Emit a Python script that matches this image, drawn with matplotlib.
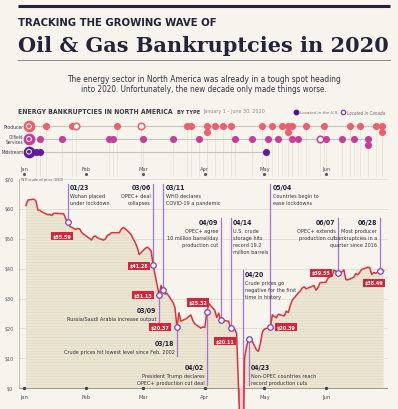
import numpy as np
import pandas as pd
import matplotlib
matplotlib.use("Agg")
import matplotlib.pyplot as plt
from matplotlib import font_manager as fm
from matplotlib.transforms import blended_transform_factory

BG = "#f6f4ec"
INK = "#23233a"
RED = "#e0323c"
TAG = "#d3263a"
VIOLET = "#a276d9"
MARK = "#7a42c8"
GRID = "#dcd7c7"
SERIF = ["DejaVu Serif"]

# WTI crude, daily close (USD), 2020
wti_days = [
    "01-02", "01-03", "01-06", "01-07", "01-08", "01-09", "01-10", "01-13", "01-14", "01-15",
    "01-16", "01-17", "01-21", "01-22", "01-23", "01-24", "01-27", "01-28", "01-29", "01-30", "01-31",
    "02-03", "02-04", "02-05", "02-06", "02-07", "02-10", "02-11", "02-12", "02-13", "02-14",
    "02-18", "02-19", "02-20", "02-21", "02-24", "02-25", "02-26", "02-27", "02-28",
    "03-02", "03-03", "03-04", "03-05", "03-06", "03-09", "03-10", "03-11", "03-12", "03-13",
    "03-16", "03-17", "03-18", "03-19", "03-20", "03-23", "03-24", "03-25", "03-26", "03-27", "03-30", "03-31",
    "04-01", "04-02", "04-03", "04-06", "04-07", "04-08", "04-09", "04-13", "04-14", "04-15",
    "04-16", "04-17", "04-20", "04-21", "04-22", "04-23", "04-24", "04-27", "04-28", "04-29", "04-30",
    "05-01", "05-04", "05-05", "05-06", "05-07", "05-08", "05-11", "05-12", "05-13", "05-14",
    "05-15", "05-18", "05-19", "05-20", "05-21", "05-22", "05-26", "05-27", "05-28", "05-29",
    "06-01", "06-02", "06-03", "06-04", "06-05", "06-08", "06-09", "06-10", "06-11", "06-12",
    "06-15", "06-16", "06-17", "06-18", "06-19", "06-22", "06-23", "06-24", "06-25", "06-26", "06-29", "06-30",
]
wti_prices = [
    61.17, 63.00, 63.27, 62.70, 59.65, 59.56, 59.02, 58.08, 58.23, 57.79,
    58.52, 58.54, 58.38, 56.74, 55.59, 54.19, 53.14, 53.48, 53.33, 52.14, 51.56,
    50.11, 49.61, 50.75, 50.95, 50.32, 49.57, 49.94, 51.17, 51.42, 52.05,
    52.05, 53.29, 53.78, 53.38, 51.43, 49.90, 48.73, 47.09, 44.76,
    46.75, 47.18, 46.78, 45.90, 41.28, 31.13, 34.36, 32.98, 31.50, 31.73,
    28.70, 26.95, 20.37, 25.22, 22.43, 23.36, 24.01, 24.49, 22.60, 21.51, 20.09, 20.48,
    20.31, 25.32, 28.34, 26.08, 23.63, 25.09, 22.76, 22.41, 20.11, 19.87,
    19.87, 18.27, -37.63, 10.01, 13.78, 16.50, 16.94, 12.78, 12.34, 15.06, 18.84,
    19.78, 20.39, 24.56, 23.99, 23.55, 24.74, 24.14, 25.78, 25.29, 27.56,
    29.43, 31.82, 32.50, 33.49, 33.92, 33.25, 34.35, 32.81, 33.71, 35.32,
    35.44, 36.81, 37.29, 37.41, 39.55, 38.19, 38.94, 39.60, 36.34, 36.26,
    37.12, 38.38, 37.96, 38.84, 39.75, 40.46, 40.37, 38.01, 38.72, 38.49, 39.70, 39.27,
]

# bankruptcy filings by type
producer_days = ["01-12", "01-25", "01-27", "02-17", "02-29", "03-23", "03-25", "04-02", "04-02",
                 "04-06", "04-10", "04-14", "04-30", "05-05", "05-10", "05-13", "05-13", "05-15",
                 "05-22", "05-31", "06-13", "06-18", "06-26", "06-29", "06-29"]
producer_canada = ["01-27", "02-29"]
services_days = ["01-09", "01-20", "02-13", "02-15", "03-01", "03-16", "03-29", "04-16", "04-25",
                 "05-03", "05-08", "05-15", "05-18", "05-29", "06-01", "06-09", "06-15", "06-22", "06-22"]
services_canada = ["05-29"]
midstream_days = ["01-07", "01-09", "05-02"]

event_days = ["01-23", "03-06", "03-09", "03-11", "03-18", "04-02", "04-09",
              "04-14", "04-20", "04-23", "05-04", "06-07", "06-28"]
event_notes = {
    "01/23": ["Wuhan placed", "under lockdown"],
    "03/06": ["OPEC+ deal", "collapses"],
    "03/09": ["Russia/Saudi Arabia increase output"],
    "03/11": ["WHO declares", "COVID-19 a pandemic"],
    "03/18": ["Crude prices hit lowest level since Feb. 2002"],
    "04/02": ["President Trump declares", "OPEC+ production cut deal"],
    "04/09": ["OPEC+ agree", "10 million barrel/day", "production cut"],
    "04/14": ["U.S. crude", "storage hits", "record 19.2", "million barrels"],
    "04/20": ["Crude prices go", "negative for the first", "time in history"],
    "04/23": ["Non-OPEC countries reach", "record production cuts"],
    "05/04": ["Countries begin to", "ease lockdowns"],
    "06/07": ["OPEC+ extends", "production cut"],
    "06/28": ["Most producer", "bankruptcies in a", "quarter since 2016"],
}
event_tags = {"01/23": "$55.59", "03/06": "$41.28", "03/09": "$31.13", "03/18": "$20.37",
              "04/02": "$25.32", "04/14": "$20.11", "05/04": "$20.39", "06/07": "$39.55",
              "06/28": "$38.49"}

months = ["Jan", "Feb", "Mar", "Apr", "May", "Jun"]
price_ticks = [0, 10, 20, 30, 40, 50, 60, 70]

# ---- layout (pixels of the 398x410 picture) ----
# side of text, title y, line top, line bottom ("m" = marker)
layout = {
    "01/23": ("r", 188, 185, "m"), "03/06": ("l", 188, 185, "m"),
    "03/09": ("l", 311, "m", 323), "03/11": ("r", 188, 185, "m"),
    "03/18": ("l", 344, "m", 357), "04/02": ("l", 368, "m", 386),
    "04/09": ("l", 223, 219, "m"), "04/14": ("r", 223, 219, "m"),
    "04/20": ("r", 275, 271, 430), "04/23": ("r", 368, "m", 386),
    "05/04": ("r", 188, 185, "m"), "06/07": ("l", 223, 219, "m"),
    "06/28": ("l", 223, 219, "m"),
}
tag_offsets = {"01/23": (-6, 14), "03/06": (-14, 1), "03/09": (-16, 0), "03/18": (-17, 0),
               "04/02": (-9, -10), "04/14": (-6, 13), "05/04": (16, 0), "06/07": (-17, 0),
               "06/28": (-6, 12)}
PT = 72 / 100  # points per pixel


def pick_narrow():
    names = {f.name for f in fm.fontManager.ttflist}
    files = [f.fname for f in fm.fontManager.ttflist]
    if "Liberation Sans Narrow" in names:
        return dict(family=["Liberation Sans Narrow", "DejaVu Sans"])
    if any("DejaVuSansCondensed" in f for f in files):
        return dict(family=["DejaVu Sans"], stretch="condensed")
    if "Roboto" in names:
        return dict(family=["Roboto", "DejaVu Sans"])
    return dict(family=["DejaVu Sans"])


NK = pick_narrow()


def doy(md):
    d = pd.to_datetime(["2020-" + s for s in md])
    return np.asarray((d - pd.Timestamp("2020-01-01")).days, dtype=float)


W, H = 398, 410
fig = plt.figure(figsize=(W / 100, H / 100), dpi=100, facecolor=BG)
ov = fig.add_axes([0, 0, 1, 1], zorder=0)
ov.set_xlim(0, W)
ov.set_ylim(H, 0)
ov.axis("off")
ov.patch.set_alpha(0)

XL = (-2.5, 183)
x0px = 19.0
wpx = 368.6
ax = fig.add_axes([x0px / W, 0, wpx / W, (H - 178.6) / H], zorder=2)
ax.set_xlim(*XL)
ax.set_ylim(-7.0, 70.5)
ax.axis("off")
ax.patch.set_alpha(0)

st = fig.add_axes([x0px / W, 1 - 178 / H, wpx / W, 83 / H], zorder=2)
st.set_xlim(*XL)
st.set_ylim(178, 95)
st.axis("off")
st.patch.set_alpha(0)

renderer = fig.canvas.get_renderer()


def fit(t, width):
    bb = t.get_window_extent(renderer)
    t.set_fontsize(t.get_fontsize() * width / bb.width)
    return t


def size_for(sample, width, **kw):
    t = ov.text(0, 0, sample, fontsize=10, **NK, **kw)
    w = t.get_window_extent(renderer).width
    t.remove()
    return 10 * width / w


# the reference face is condensed; widen a bit so heights stay readable
note_fs = size_for("production cut", 30) * 1.2
date_fs = size_for("01/23", 17, weight="bold") * 1.15
tag_fs = size_for("$55.59", 15, weight="bold") * 1.25
tick_fs = size_for("Mar", 7.5) * 1.3
ylab_fs = size_for("$30", 7) * 1.3

# ---- header ----
ov.plot([18, 390], [7, 7], color=INK, lw=2.2, solid_capstyle="butt")
fit(ov.text(18, 23.5, "TRACKING THE GROWING WAVE OF", **NK, weight="bold",
            color=INK, va="center", fontsize=9), 200)
fit(ov.text(18, 45.5, "Oil & Gas Bankruptcies in 2020", family=SERIF, weight="bold",
            color=INK, va="center", fontsize=15), 372)
ov.plot([18, 390], [61, 61], color="#77777f", lw=0.6)
fit(ov.text(204, 80, "The energy sector in North America was already in a tough spot heading",
            **NK, color="#333340", ha="center", va="center", fontsize=6), 275)
fit(ov.text(204, 89, "into 2020. Unfortunately, the new decade only made things worse.",
            **NK, color="#333340", ha="center", va="center", fontsize=6), 246)

fit(ov.text(18, 112, "ENERGY BANKRUPTCIES IN NORTH AMERICA", **NK, weight="bold",
            color="#3a3a4a", va="center", fontsize=6), 157)
fit(ov.text(177, 113, "BY TYPE", **NK, weight="bold", color="#3a3a4a",
            va="center", fontsize=4), 23)
fit(ov.text(203, 112, "January 1 \u2013 June 30, 2020", **NK, color="#8a8a90",
            va="center", fontsize=4), 62)
ov.scatter([296], [113], s=10, color="#4b1590", zorder=3)
ov.scatter([343], [113], s=10, facecolor=BG, edgecolor="#7b3fc4", lw=0.9, zorder=3)
fit(ov.text(300, 113.5, "Located in the U.S.", **NK, style="italic",
            color="#6a6a72", va="center", fontsize=4), 38)
fit(ov.text(347, 113.5, "Located in Canada", **NK, style="italic",
            color="#6a6a72", va="center", fontsize=4), 38)

# ---- bankruptcy strip ----
rows = [
    ("Producer", producer_days, producer_canada, "#ef5f6b", 127.3, 21),
    ("Oilfield\nServices", services_days, services_canada, "#c73d9a", 140.0, 18),
    ("Midstream", midstream_days, [], "#5e1d9e", 152.7, 22.5),
]
for label, days, canada, col, yrow, lw_px in rows:
    xs = doy(days)
    st.plot([4.5, xs.max()], [yrow, yrow], color="#c8c5bb", lw=0.8, zorder=1)
    seen = {}
    for md, x in zip(days, xs):
        k = seen.get(md, 0)
        seen[md] = k + 1
        y = yrow + 6 * k
        st.plot([x, x], [y, 178], color="#e4e0d5", lw=0.5, zorder=0)
        if md in canada:
            st.scatter([x], [y], s=22, facecolor=BG, edgecolor=col, lw=1.1, zorder=3)
        else:
            st.scatter([x], [y], s=26, color=col, lw=0, zorder=3)
    fit(ov.text(23.5, yrow, label, ha="right", va="center", fontsize=5, **NK,
                color="#3a3a4a", linespacing=0.95), lw_px)
    st.scatter([2.5], [yrow], s=55, color=col, zorder=4, clip_on=False)
    st.scatter([2.5], [yrow], s=12, facecolor="none", edgecolor="white", lw=0.7,
               zorder=5, clip_on=False)

month_x = doy([f"{m:02d}-01" for m in range(1, 7)])
for m, x in zip(months, month_x):
    st.text(x, 169.5, m, ha="center", va="center", fontsize=tick_fs, **NK, color="#555560")
    st.scatter([x], [175], s=1.5, color="#555560")

# ---- price chart ----
px_x = doy(wti_days)
price = np.array(wti_prices)

for p in price_ticks[1:]:
    ax.plot(XL, [p, p], color=GRID, lw=0.5, zorder=0)
ax.plot(XL, [0, 0], color="#9c998e", lw=0.8, zorder=1)
ax.plot([XL[0], XL[0]], [0, 70], color="#b9b5a8", lw=0.6, zorder=1)
for p in price_ticks:
    ax.text(-7.4, p, f"${p}", ha="center", va="center", fontsize=ylab_fs, **NK,
            color="#555560", clip_on=False)
fit(ax.text(-1.3, 70, "WTI crude oil price (USD)", ha="left", va="center", fontsize=4.0,
            **NK, color="#555560", bbox=dict(fc=BG, ec="none", pad=0.6)), 42)

plt.rcParams["hatch.linewidth"] = 0.35
ax.fill_between(px_x, 0, price, where=price >= 0, interpolate=True, facecolor="#ebe5d1",
                edgecolor="#ddd5bd", hatch="------", lw=0, zorder=1)
ax.fill_between(px_x, price, 0, where=price < 0, interpolate=True, facecolor="#f6d0d0",
                edgecolor=RED, hatch="||||", lw=0, zorder=1)
ax.plot(px_x, price, color=RED, lw=1.1, zorder=4, solid_joinstyle="round")

for m, x in zip(months, month_x):
    ax.scatter([x], [0], s=2, color="#44444f", zorder=5)
    ax.text(x, -2.7, m, ha="center", va="center", fontsize=tick_fs, **NK, color="#555560")


def px_to_price(py):
    disp = ov.transData.transform((0, py))
    return ax.transData.inverted().transform(disp)[1]


blend = blended_transform_factory(ax.transData, ov.transData)
ev_x = doy(event_days)
for md, x in zip(event_days, ev_x):
    key = md.replace("-", "/")
    side, ty, top, bot = layout[key]
    py = np.interp(x, px_x, price)
    y_top = py if top == "m" else px_to_price(top)
    y_bot = py if bot == "m" else px_to_price(bot)
    ax.plot([x, x], [y_bot, y_top], color=VIOLET, lw=0.9, zorder=3, clip_on=True)
    if key != "04/20":
        ax.scatter([x], [py], s=16, facecolor=BG, edgecolor=MARK, lw=0.9, zorder=6)
    dx = 1.8 if side == "r" else -1.8
    ha = "left" if side == "r" else "right"
    ax.annotate(key, xy=(x, ty), xycoords=blend, xytext=(dx, 0), textcoords="offset points",
                ha=ha, va="center", fontsize=date_fs, weight="bold", **NK, color=INK,
                zorder=7)
    for i, line in enumerate(event_notes[key]):
        ax.annotate(line, xy=(x, ty + 8.5 + 7 * i), xycoords=blend, xytext=(dx, 0),
                    textcoords="offset points", ha=ha, va="center", fontsize=note_fs,
                    **NK, color="#33333f", zorder=7)
    if key in event_tags:
        ox, oy = tag_offsets[key]
        ax.annotate(event_tags[key], xy=(x, py), xytext=(ox * PT, -oy * PT),
                    textcoords="offset points", ha="center", va="center", fontsize=tag_fs,
                    weight="bold", **NK, color="white", zorder=8,
                    bbox=dict(boxstyle="square,pad=0.3", fc=TAG, ec="none"))

fig.savefig("out.png", dpi=100, facecolor=BG)
